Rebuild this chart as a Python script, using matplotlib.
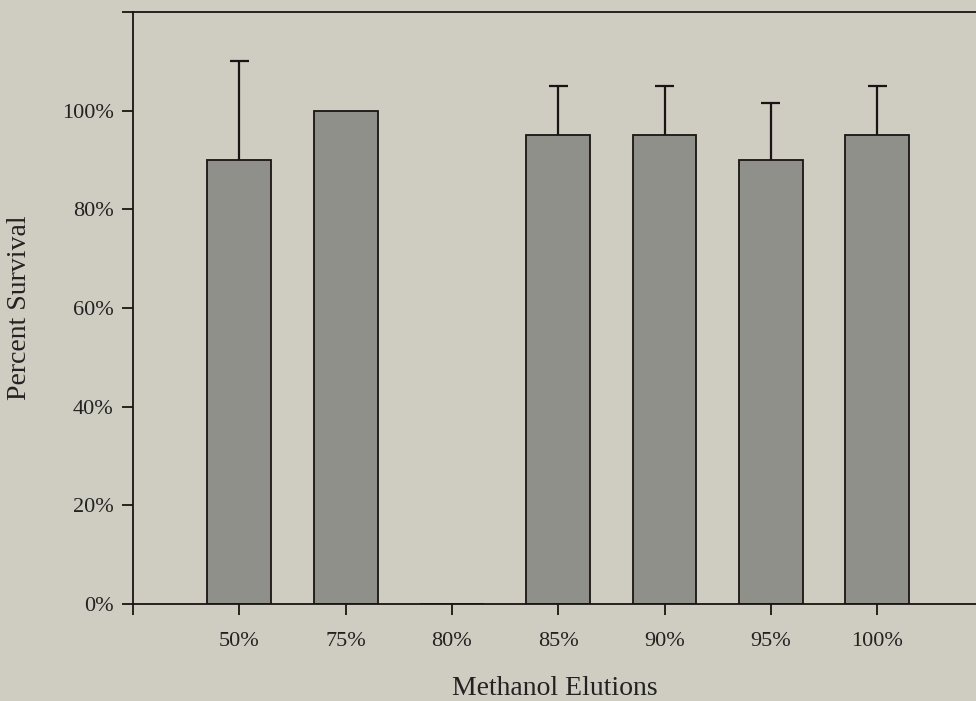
import numpy as np
import matplotlib.pyplot as plt

# methanol elution fractions
elutions = ["50%", "75%", "80%", "85%", "90%", "95%", "100%"]
survival = [90, 100, 0, 95, 95, 90, 95]
err_upper = [20, 0, 0, 10, 10, 11.5, 10]

BG = "#cfccc2"
BAR = "#8e9089"
INK = "#1a1414"

plt.rcParams["font.family"] = ["Liberation Serif", "DejaVu Serif"]

fig = plt.figure(figsize=(9.76, 7.01), dpi=100, facecolor=BG)
# axes placed in pixel terms: left 133, right 976, top 12, bottom 604
ax = fig.add_axes([133 / 976, 1 - 604 / 701, (976 - 133) / 976, (604 - 12) / 701])
ax.set_facecolor(BG)

x = np.arange(len(elutions))
ax.bar(x, survival, width=0.6, color=BAR, edgecolor=INK, linewidth=1.3, zorder=2)

# upper-only error bars, skip the ones that are zero
surv = np.array(survival, dtype=float)
err = np.array(err_upper, dtype=float)
has_err = err > 0
ax.vlines(x[has_err], surv[has_err], surv[has_err] + err[has_err],
          color=INK, linewidth=1.6, zorder=3)
ax.hlines(surv[has_err] + err[has_err], x[has_err] - 0.09, x[has_err] + 0.09,
          color=INK, linewidth=1.6, zorder=3)

ax.set_xlim(-1, 6.93)
ax.set_ylim(0, 120)

ax.set_xticks(np.arange(-1, len(elutions)))
ax.set_xticklabels([""] + elutions)
ax.set_yticks(np.arange(0, 121, 20))
ax.set_yticklabels([f"{v}%" for v in range(0, 101, 20)] + [""])

for side in ["left", "bottom", "top"]:
    ax.spines[side].set_linewidth(1.3)
    ax.spines[side].set_color(INK)
ax.spines["right"].set_visible(False)

ax.tick_params(axis="both", direction="out", length=8, width=1.3, color=INK,
               labelsize=16, labelcolor="#222222")
ax.tick_params(axis="x", pad=12)
ax.tick_params(axis="y", pad=6)

ax.set_xlabel("Methanol Elutions", fontsize=20, color="#222222")
ax.set_ylabel("Percent Survival", fontsize=20, color="#222222")
ax.xaxis.set_label_coords(0.5, -0.122)
ax.yaxis.set_label_coords(-0.12, 0.5)

fig.savefig("out.png", dpi=100, facecolor=BG)
